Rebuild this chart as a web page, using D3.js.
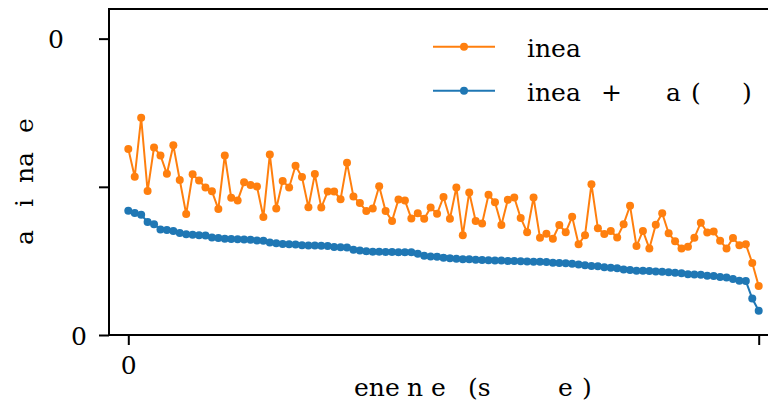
<!DOCTYPE html>
<html>
<head>
<meta charset="utf-8">
<script src="https://cdn.jsdelivr.net/npm/d3@7"></script>
<style>
  html, body { margin: 0; padding: 0; background: #fff; overflow: hidden; }
  svg { display: block; }
  text { font-family: "DejaVu Serif", "Liberation Serif", serif; fill: #000; }
</style>
</head>
<body>
<svg id="chart" width="768" height="407"></svg>
<script>
// Series values, one per instance index
const linearValues = [
  6.28, 5.34, 7.33, 4.86, 6.33, 6.06, 5.44, 6.40, 5.23, 4.08,
  5.42, 5.21, 4.98, 4.85, 4.25, 6.06, 4.63, 4.54, 5.15, 5.06,
  5.01, 3.98, 6.09, 4.27, 5.20, 4.98, 5.71, 5.33, 4.31, 5.43,
  4.30, 4.84, 4.84, 4.58, 5.81, 4.67, 4.45, 4.18, 4.27, 5.02,
  4.18, 3.85, 4.57, 4.54, 3.93, 4.11, 3.92, 4.30, 4.09, 4.66,
  3.92, 4.98, 3.37, 4.81, 3.85, 3.76, 4.73, 4.48, 3.71, 4.56,
  4.64, 3.95, 3.47, 4.64, 3.28, 3.42, 3.25, 3.71, 3.47, 3.99,
  3.06, 3.37, 5.09, 3.60, 3.41, 3.51, 3.29, 3.74, 4.36, 3.00,
  3.51, 2.92, 3.72, 4.11, 3.43, 3.16, 2.92, 2.98, 3.28, 3.79,
  3.46, 3.49, 3.18, 2.92, 3.27, 3.03, 3.06, 2.43, 1.65
];
const linearPlusValues = [
  4.19, 4.12, 4.06, 3.81, 3.74, 3.56, 3.54, 3.51, 3.44, 3.40,
  3.38, 3.37, 3.36, 3.29, 3.27, 3.25, 3.24, 3.23, 3.22, 3.21,
  3.19, 3.18, 3.12, 3.10, 3.07, 3.06, 3.05, 3.03, 3.02, 3.02,
  3.01, 3.00, 2.97, 2.96, 2.95, 2.88, 2.85, 2.83, 2.81, 2.81,
  2.80, 2.80, 2.79, 2.79, 2.79, 2.74, 2.67, 2.65, 2.64, 2.61,
  2.59, 2.57, 2.56, 2.56, 2.54, 2.53, 2.52, 2.51, 2.51, 2.50,
  2.50, 2.49, 2.48, 2.47, 2.47, 2.46, 2.44, 2.43, 2.42, 2.40,
  2.38, 2.35, 2.33, 2.32, 2.29, 2.27, 2.25, 2.21, 2.19, 2.17,
  2.17, 2.16, 2.14, 2.13, 2.12, 2.10, 2.08, 2.05, 2.04, 2.03,
  2.00, 1.99, 1.96, 1.94, 1.89, 1.83, 1.82, 1.23, 0.82
];

const yTickValues = [0, 5, 10];
const yTickLabels = ["0", "", "0"];
const xTickValues = [0, 98];
const xTickLabels = ["0", ""];

const seriesNames = ["linear", "linearPlus"];
const seriesColors = ["#ff7f0e", "#1f77b4"];
const legendPieces = [["inea"], ["inea", "+", "a", "(", ")"]];
const xLabelPieces = ["ene", "n", "e", "(s", "e", ")"];
const yLabelPieces = ["a", "i", "na", "e"];

const FONT = "DejaVu Serif, Liberation Serif, serif";
const FS = 25;
const svg = d3.select("#chart");
const box = { left: 109, right: 778, top: 9, bottom: 335 };

const x = d3.scaleLinear().domain([-3, 101]).range([box.left, box.right]);
const y = d3.scaleLinear().domain([0, 11]).range([box.bottom, box.top]);

const series = [
  { name: seriesNames[1], color: seriesColors[1], values: linearPlusValues },
  { name: seriesNames[0], color: seriesColors[0], values: linearValues }
];

const line = d3.line().x((d, i) => x(i)).y(d => y(d));

series.forEach(s => {
  const g = svg.append("g").attr("class", "series-" + s.name);
  g.append("path")
    .attr("d", line(s.values))
    .attr("fill", "none")
    .attr("stroke", s.color)
    .attr("stroke-width", 2);
  g.selectAll("circle")
    .data(s.values)
    .join("circle")
    .attr("cx", (d, i) => x(i))
    .attr("cy", d => y(d))
    .attr("r", 4)
    .attr("fill", s.color);
});

// Frame
svg.append("rect")
  .attr("x", box.left).attr("y", box.top)
  .attr("width", box.right - box.left).attr("height", box.bottom - box.top)
  .attr("fill", "none").attr("stroke", "#000").attr("stroke-width", 2);

// Y axis
const yAxis = svg.append("g")
  .attr("transform", `translate(${box.left},0)`)
  .call(d3.axisLeft(y).tickValues(yTickValues)
    .tickFormat((d, i) => yTickLabels[i]).tickSize(10).tickPadding(12));
yAxis.select(".domain").remove();
yAxis.attr("font-family", FONT).attr("font-size", FS);
yAxis.selectAll(".tick line").attr("stroke", "#000").attr("stroke-width", 2);
yAxis.selectAll(".tick text")
  .attr("dy", "0.36em")
  .attr("dx", (d, i) => i === yTickValues.length - 1 ? -23 : 0);

// X axis
const xAxis = svg.append("g")
  .attr("transform", `translate(0,${box.bottom})`)
  .call(d3.axisBottom(x).tickValues(xTickValues)
    .tickFormat((d, i) => xTickLabels[i]).tickSize(10).tickPadding(11));
xAxis.select(".domain").remove();
xAxis.attr("font-family", FONT).attr("font-size", FS);
xAxis.selectAll(".tick line").attr("stroke", "#000").attr("stroke-width", 2);

// X axis title
const xLabelX = [354, 407, 431, 468, 558, 582];
const xt = svg.append("text").attr("y", 396).attr("font-size", FS);
xLabelPieces.forEach((p, i) => xt.append("tspan").attr("x", xLabelX[i]).text(p));

// Y axis title
const yLabelU = [-245, -207, -183, -133];
const yt = svg.append("text")
  .attr("transform", "translate(33,0) rotate(-90)")
  .attr("font-size", FS);
yLabelPieces.forEach((p, i) => yt.append("tspan").attr("x", yLabelU[i]).attr("y", 0).text(p));

// Legend
const legendRows = [46.7, 90.7];
const legendPieceX = [[527], [527, 601, 666, 691, 742]];
[0, 1].forEach(k => {
  const g = svg.append("g").attr("class", "legend-" + seriesNames[k]);
  const ly = legendRows[k];
  g.append("line")
    .attr("x1", 433).attr("x2", 495).attr("y1", ly).attr("y2", ly)
    .attr("stroke", seriesColors[k]).attr("stroke-width", 2);
  g.append("circle").attr("cx", 464).attr("cy", ly).attr("r", 4).attr("fill", seriesColors[k]);
  const t = g.append("text").attr("y", ly + 10).attr("font-size", FS);
  legendPieces[k].forEach((p, i) => t.append("tspan").attr("x", legendPieceX[k][i]).text(p));
});
</script>
</body>
</html>
